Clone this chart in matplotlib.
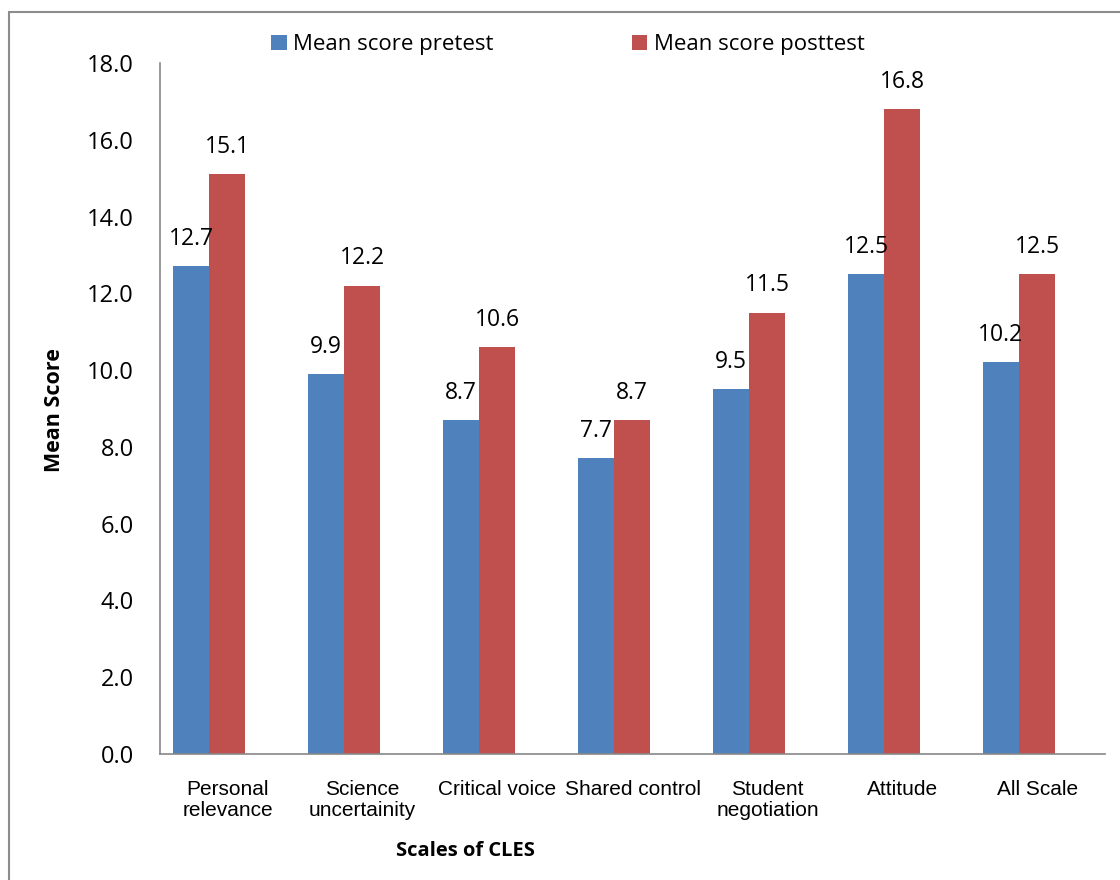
import matplotlib.pyplot as plt
import numpy as np
from matplotlib.patches import Rectangle

scales = ["Personal\nrelevance", "Science\nuncertainity", "Critical voice", "Shared control",
          "Student\nnegotiation", "Attitude", "All Scale"]
pretest = [12.7, 9.9, 8.7, 7.7, 9.5, 12.5, 10.2]
posttest = [15.1, 12.2, 10.6, 8.7, 11.5, 16.8, 12.5]

blue = "#4F81BD"
red = "#C0504D"

fig = plt.figure(figsize=(11.2, 8.8), dpi=100)
ax = fig.add_axes([0.1429, 0.1432, 0.8437, 0.7852])

x = np.arange(len(scales))
w = 0.267
b1 = ax.bar(x - w / 2, pretest, w, color=blue, label="Mean score pretest")
b2 = ax.bar(x + w / 2, posttest, w, color=red, label="Mean score posttest")

for bars, vals in [(b1, pretest), (b2, posttest)]:
    for b, v in zip(bars, vals):
        ax.annotate(f"{v:.1f}", (b.get_x() + b.get_width() / 2, v),
                    xytext=(0, 11), textcoords="offset points",
                    ha="center", va="bottom", fontsize=16.5, family="Open Sans")

ax.set_xlim(-0.363, 6.637)
ax.set_ylim(0, 18)
ax.set_yticks(np.arange(0, 18.1, 2))
ax.set_yticklabels([f"{t:.1f}" for t in np.arange(0, 18.1, 2)], fontsize=17, family="Open Sans")
ax.set_xticks(x + 0.137)
ax.set_xticklabels(scales, fontsize=15, family="Liberation Sans", linespacing=1.1)
ax.tick_params(axis="both", length=0)
ax.tick_params(axis="x", pad=19)
ax.tick_params(axis="y", pad=19)

for s in ["top", "right"]:
    ax.spines[s].set_visible(False)
for s in ["left", "bottom"]:
    ax.spines[s].set_color("#888888")
    ax.spines[s].set_linewidth(1.2)

fig.text(0.049, 0.534, "Mean Score", rotation=90, ha="center", va="center",
         fontsize=15.5, fontweight="bold", family="Open Sans")
fig.text(0.416, 0.033, "Scales of CLES", ha="center", va="center",
         fontsize=14.5, fontweight="bold", family="Open Sans")

fig.legend(handles=[b1, b2], loc="center", bbox_to_anchor=(0.507, 0.949), ncol=2,
           frameon=False, handlelength=0.7, handleheight=0.7, handletextpad=0.3,
           columnspacing=6.2, prop={"family": "Open Sans", "size": 16})

# outer chart border
fig.patches.append(Rectangle((9 / 1120, -0.02), 1.05, 1 - 12 / 880 + 0.02,
                             transform=fig.transFigure, fill=False,
                             edgecolor="#8c8c8c", linewidth=1.5))

fig.savefig("out.png", dpi=100)
